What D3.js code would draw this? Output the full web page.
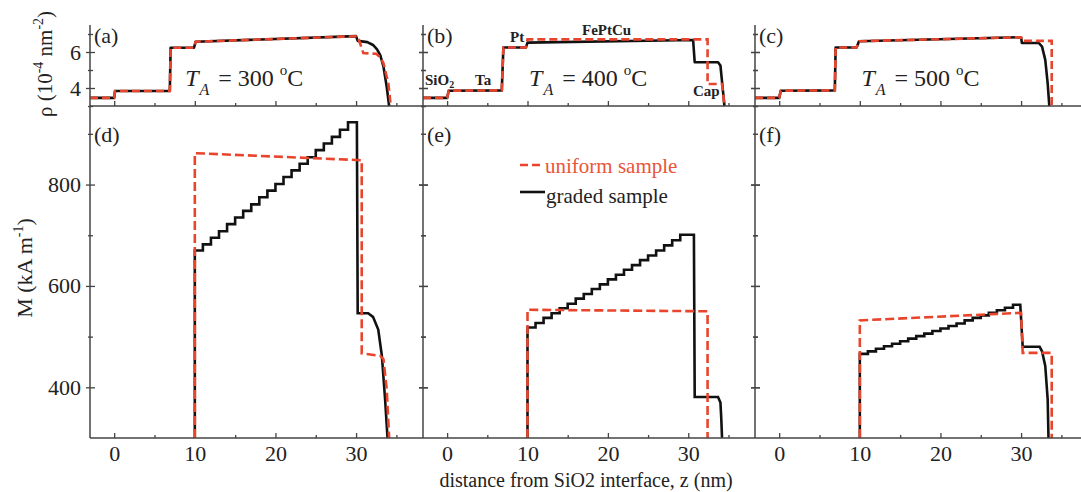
<!DOCTYPE html>
<html><head><meta charset="utf-8">
<script src="https://cdn.jsdelivr.net/npm/d3@7"></script>
<style>
body{margin:0;background:#fff}
svg{display:block}
text{font-family:"Liberation Serif","Times New Roman",serif}
</style>
</head><body>
<svg id="c" width="1081" height="492"></svg>
<script>
// ---------------- DATA ----------------
const annealTemps = ["300", "400", "500"];
const topPanelLabels = ["(a)", "(b)", "(c)"];
const bottomPanelLabels = ["(d)", "(e)", "(f)"];
const xTickValues = [0, 10, 20, 30];
const xMinorTicks = [5, 15, 25, 35];
const rhoTickValues = [4, 6];
const rhoMinorTicks = [3, 5, 7];
const mTickValues = [400, 600, 800];
const mMinorTicks = [500, 700, 900];
const seriesNames = ["uniform sample", "graded sample"];
const layerNames = ["SiO2", "Ta", "Pt", "FePtCu", "Cap"];

// SLD profiles rho(z), [z (nm), rho (1e-4 nm^-2)]
const rhoGraded300 = [[-3,3.45],[0,3.45],[0.1,3.83],[6.9,3.83],[7.0,6.24],[9.9,6.24],[10.1,6.57],[30.0,6.88],[30.2,6.62],[31.4,6.55],[32.1,6.39],[32.6,6.15],[33.0,5.83],[33.4,5.18],[33.8,4.07],[34.1,3.0]];
const rhoUniform300 = [[-3,3.45],[0,3.45],[0.1,3.83],[6.9,3.83],[7.0,6.24],[9.9,6.24],[10.1,6.57],[30.2,6.88],[30.9,5.94],[32.5,5.9],[33.0,5.7],[33.4,5.37],[34.0,4.27],[34.3,3.0]];
const rhoGraded400 = [[-3,3.45],[0,3.45],[0.2,3.85],[6.8,3.87],[7.0,6.25],[9.8,6.25],[10.0,6.52],[30.6,6.67],[30.8,5.43],[33.7,5.43],[34.0,5.25],[34.2,4.35],[34.5,3.0]];
const rhoUniform400 = [[-3,3.45],[0,3.45],[0.2,3.85],[6.8,3.87],[7.0,6.25],[9.8,6.25],[10.0,6.7],[32.4,6.7],[32.4,4.22],[34.2,4.22],[34.5,3.0]];
const rhoGraded500 = [[-3,3.45],[0,3.45],[0.2,3.85],[6.9,3.87],[7.0,6.25],[9.6,6.25],[9.9,6.6],[30.0,6.82],[30.1,6.5],[32.2,6.5],[32.6,6.3],[33.0,5.56],[33.3,4.26],[33.5,3.0]];
const rhoUniform500 = [[-3,3.45],[0,3.45],[0.2,3.85],[6.9,3.87],[7.0,6.25],[9.6,6.25],[9.9,6.6],[30.0,6.82],[30.1,6.62],[33.8,6.62],[33.8,3.0]];

// Magnetisation profiles M(z) (kA/m)
// graded: 1-nm steps starting at z = 10 nm, followed by the tail
const mStepsGraded300 = [670,682,695,708,722,735,748,761,775,788,801,815,828,841,854,868,881,894,908,923];
const mTailGraded300 = [[30.1,923],[30.2,546],[31.5,546],[32.1,539],[32.75,514],[33.2,462],[33.6,376],[33.9,300]];
const mUniform300 = [[10,300],[10,862],[30.7,848],[30.7,467],[33.0,462],[33.4,455],[33.8,396],[34.1,300]];

const mStepsGraded400 = [518,527,537,546,556,565,575,584,594,603,613,622,632,641,651,660,670,680,690,701];
const mTailGraded400 = [[30.7,701],[30.8,381],[33.7,381],[34.0,370],[34.1,340],[34.2,300]];
const mUniform400 = [[10,300],[10,553],[32.4,550],[32.4,300]];

const mStepsGraded500 = [466,471,476,481,486,491,496,501,506,511,516,521,526,532,537,542,547,552,557,563];
const mTailGraded500 = [[29.9,563],[30.2,480],[32.3,480],[32.6,471],[33.0,442],[33.3,376],[33.4,300]];
const mUniform500 = [[10,300],[10,532],[30.0,547],[30.2,468],[33.8,468],[33.8,300]];

// ---------------- LAYOUT ----------------
const RED = "#e8452c", BLACK = "#111", AXIS = "#444";
const cols = [[90,423],[423,755],[755,1088]];
const yTop = 25, yMid = 106, yBot = 438;
const xDomain = [-3, 38.3];
const yRho = d3.scaleLinear().domain([3, 7.5]).range([yMid, yTop]);
const yM = d3.scaleLinear().domain([300, 955]).range([yBot, yMid]);

const svg = d3.select("#c");

function gradedPath(steps, tail, start) {
  const pts = [[start, 300]];
  steps.forEach((v, i) => {
    pts.push([start + i, v]);
    if (i < steps.length - 1) pts.push([start + i + 1, v]);
  });
  return pts.concat(tail);
}

const rhoSets = [[rhoGraded300, rhoUniform300],[rhoGraded400, rhoUniform400],[rhoGraded500, rhoUniform500]];
const mSets = [
  [gradedPath(mStepsGraded300, mTailGraded300, 10), mUniform300],
  [gradedPath(mStepsGraded400, mTailGraded400, 10), mUniform400],
  [gradedPath(mStepsGraded500, mTailGraded500, 10), mUniform500]
];
const tLabelZ = [8.8, 10.2, 10.2];

const defs = svg.append("defs");

cols.forEach((c, i) => {
  const x = d3.scaleLinear().domain(xDomain).range(c);
  defs.append("clipPath").attr("id", "ct" + i).append("rect")
    .attr("x", c[0]).attr("y", yTop - 5).attr("width", c[1] - c[0]).attr("height", yMid - yTop + 6);
  defs.append("clipPath").attr("id", "cb" + i).append("rect")
    .attr("x", c[0]).attr("y", yMid).attr("width", c[1] - c[0]).attr("height", yBot - yMid + 1);

  [yMid, yBot].forEach((yy, k) => {
    const g = svg.append("g").attr("transform", `translate(0,${yy})`)
      .call(d3.axisBottom(x).tickValues(xTickValues).tickSizeInner(-5).tickSizeOuter(0).tickPadding(7)
        .tickFormat(k === 1 ? d3.format("d") : () => ""));
    g.select(".domain").remove();
    g.selectAll("line").attr("stroke", AXIS).attr("stroke-width", 1.3);
    g.selectAll("text").attr("font-family", "Liberation Serif").attr("font-size", 22).attr("fill", "#222");
    const gm = svg.append("g").attr("transform", `translate(0,${yy})`)
      .call(d3.axisBottom(x).tickValues(xMinorTicks).tickSizeInner(-3).tickSizeOuter(0).tickFormat(() => ""));
    gm.select(".domain").remove();
    gm.selectAll("line").attr("stroke", AXIS).attr("stroke-width", 1.3);
  });

  [c[0], c[1]].forEach((xx, k) => {
    [[yRho, rhoTickValues, rhoMinorTicks], [yM, mTickValues, mMinorTicks]].forEach(([ys, maj, mn]) => {
      const showLab = (i === 0 && k === 0);
      const ga = svg.append("g").attr("transform", `translate(${xx},0)`)
        .call(d3.axisLeft(ys).tickValues(maj).tickSizeInner(4).tickSizeOuter(0).tickPadding(5)
          .tickFormat(showLab ? d3.format("d") : () => ""));
      ga.select(".domain").remove();
      ga.selectAll("line").attr("stroke", AXIS).attr("stroke-width", 1.3);
      ga.selectAll("text").attr("font-family", "Liberation Serif").attr("font-size", 22).attr("fill", "#222");
      const gb = svg.append("g").attr("transform", `translate(${xx},0)`)
        .call(d3.axisRight(ys).tickValues(maj).tickSizeInner(5).tickSizeOuter(0).tickFormat(() => ""));
      gb.select(".domain").remove();
      gb.selectAll("line").attr("stroke", AXIS).attr("stroke-width", 1.3);
      const gc = svg.append("g").attr("transform", `translate(${xx - 2},0)`)
        .call(d3.axisRight(ys).tickValues(mn).tickSizeInner(5).tickSizeOuter(0).tickFormat(() => ""));
      gc.select(".domain").remove();
      gc.selectAll("line").attr("stroke", AXIS).attr("stroke-width", 1.3);
    });
  });

  const lineT = d3.line().x(d => x(d[0])).y(d => yRho(d[1]));
  const lineB = d3.line().x(d => x(d[0])).y(d => yM(d[1]));
  const gt = svg.append("g").attr("clip-path", `url(#ct${i})`);
  gt.append("path").attr("d", lineT(rhoSets[i][0])).attr("fill", "none").attr("stroke", BLACK).attr("stroke-width", 2.6).attr("stroke-linejoin", "round");
  gt.append("path").attr("d", lineT(rhoSets[i][1])).attr("fill", "none").attr("stroke", RED).attr("stroke-width", 2.6).attr("stroke-dasharray", "8,4");
  const gbm = svg.append("g").attr("clip-path", `url(#cb${i})`);
  gbm.append("path").attr("d", lineB(mSets[i][0])).attr("fill", "none").attr("stroke", BLACK).attr("stroke-width", 2.6).attr("stroke-linejoin", "miter");
  gbm.append("path").attr("d", lineB(mSets[i][1])).attr("fill", "none").attr("stroke", RED).attr("stroke-width", 2.6).attr("stroke-dasharray", "9,4");

  svg.append("text").attr("x", c[0] + 4).attr("y", 43).attr("font-size", 22).attr("fill", "#222").text(topPanelLabels[i]);
  svg.append("text").attr("x", c[0] + 4).attr("y", 142).attr("font-size", 22).attr("fill", "#222").text(bottomPanelLabels[i]);

  const t = svg.append("text").attr("x", x(tLabelZ[i])).attr("y", 86).attr("font-size", 24).attr("fill", "#222");
  t.append("tspan").attr("font-style", "italic").text("T");
  t.append("tspan").attr("font-style", "italic").attr("font-size", 16).attr("dy", 9).attr("dx", 1).text("A");
  t.append("tspan").attr("dy", -9).attr("dx", 3).text(" = " + annealTemps[i] + " ");
  t.append("tspan").attr("font-size", 15).attr("dy", -11).text("o");
  t.append("tspan").attr("dy", 11).text("C");
});

const frame = svg.append("g").attr("stroke", AXIS).attr("stroke-width", 1.5);
cols.forEach(c => frame.append("line").attr("x1", c[0]).attr("x2", c[0]).attr("y1", yTop).attr("y2", yBot));
frame.append("line").attr("x1", cols[2][1]).attr("x2", cols[2][1]).attr("y1", yTop).attr("y2", yBot);
[yMid, yBot].forEach(yy => frame.append("line").attr("x1", cols[0][0]).attr("x2", cols[2][1]).attr("y1", yy).attr("y2", yy));

const ann = svg.append("g").attr("font-weight", "bold").attr("font-size", 15).attr("fill", "#222");
const sio = ann.append("text").attr("x", 425).attr("y", 85);
sio.append("tspan").text("SiO");
sio.append("tspan").attr("font-size", 10).attr("dy", 3).text("2");
ann.append("text").attr("x", 475).attr("y", 85).text(layerNames[1]);
ann.append("text").attr("x", 510).attr("y", 42).text(layerNames[2]);
ann.append("text").attr("x", 582).attr("y", 35).text(layerNames[3]);
ann.append("text").attr("x", 693).attr("y", 96).text(layerNames[4]);

const lg = svg.append("g");
lg.append("line").attr("x1", 520).attr("x2", 542).attr("y1", 165).attr("y2", 165).attr("stroke", RED).attr("stroke-width", 2.6).attr("stroke-dasharray", "8,4");
lg.append("text").attr("x", 545).attr("y", 173).attr("font-size", 21).attr("fill", "#e8553a").text(seriesNames[0]);
lg.append("line").attr("x1", 520).attr("x2", 545).attr("y1", 192).attr("y2", 192).attr("stroke", BLACK).attr("stroke-width", 2.6);
lg.append("text").attr("x", 546).attr("y", 203).attr("font-size", 21).attr("fill", "#222").text(seriesNames[1]);

const rt = svg.append("text").attr("transform", "translate(52,64) rotate(-90)").attr("text-anchor", "middle").attr("font-size", 21).attr("fill", "#222");
rt.append("tspan").text("ρ (10");
rt.append("tspan").attr("font-size", 14).attr("dy", -9).text("-4");
rt.append("tspan").attr("dy", 9).text(" nm");
rt.append("tspan").attr("font-size", 14).attr("dy", -9).text("-2");
rt.append("tspan").attr("dy", 9).text(")");

const mt = svg.append("text").attr("transform", "translate(32,268) rotate(-90)").attr("text-anchor", "middle").attr("font-size", 22).attr("fill", "#222");
mt.append("tspan").text("M (kA m");
mt.append("tspan").attr("font-size", 14).attr("dy", -9).text("-1");
mt.append("tspan").attr("dy", 9).text(")");

svg.append("text").attr("x", 586).attr("y", 487).attr("text-anchor", "middle").attr("font-size", 20).attr("fill", "#222")
  .text("distance from SiO2 interface, z (nm)");
</script>
</body></html>
